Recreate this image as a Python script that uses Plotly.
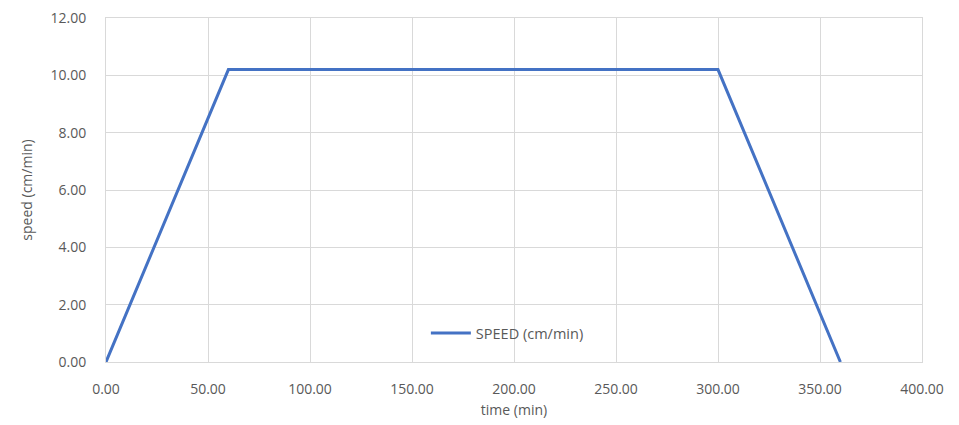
import plotly.graph_objects as go

# Speed profile: ramp up, cruise, ramp down
time_min = [0, 60, 300, 360]
speed_cm_min = [0, 10.2, 10.2, 0]

x_ticks = [0, 50, 100, 150, 200, 250, 300, 350, 400]
y_ticks = [0, 2, 4, 6, 8, 10, 12]

fig = go.Figure()
fig.add_trace(go.Scatter(
    x=time_min, y=speed_cm_min, mode="lines", name="SPEED (cm/min)",
    line=dict(color="#4472C4", width=3),
))

grid = "#D9D9D9"
txt = "#595959"
tick_font = dict(family="Open Sans, Liberation Sans, sans-serif", size=14, color=txt)

fig.update_layout(
    width=959, height=425,
    margin=dict(l=106, r=37, t=18, b=63),
    paper_bgcolor="white", plot_bgcolor="white",
    font=tick_font,
    showlegend=True,
    legend=dict(x=0.392, y=0.084, xanchor="left", yanchor="middle",
                bgcolor="rgba(0,0,0,0)", font=dict(size=14.5, color=txt),
                itemwidth=40),
    xaxis=dict(
        range=[0, 400], tickvals=x_ticks,
        ticktext=[f"{v:.2f}" for v in x_ticks],
        showgrid=True, gridcolor=grid, gridwidth=1,
        zeroline=False, showline=True, linecolor=grid, linewidth=1, mirror=True,
        ticks="", ticklabelstandoff=14, automargin=False,
        title=dict(text="time (min)", font=dict(size=14, color=txt), standoff=8),
    ),
    yaxis=dict(
        range=[0, 12], tickvals=y_ticks,
        ticktext=[f"{v:.2f}" for v in y_ticks],
        showgrid=True, gridcolor=grid, gridwidth=1,
        zeroline=False, showline=True, linecolor=grid, linewidth=1, mirror=True,
        ticks="", ticklabelstandoff=16, automargin=False,
        title=dict(text="speed (cm/min)", font=dict(size=14, color=txt), standoff=14),
    ),
)

fig.write_html("out.html")
